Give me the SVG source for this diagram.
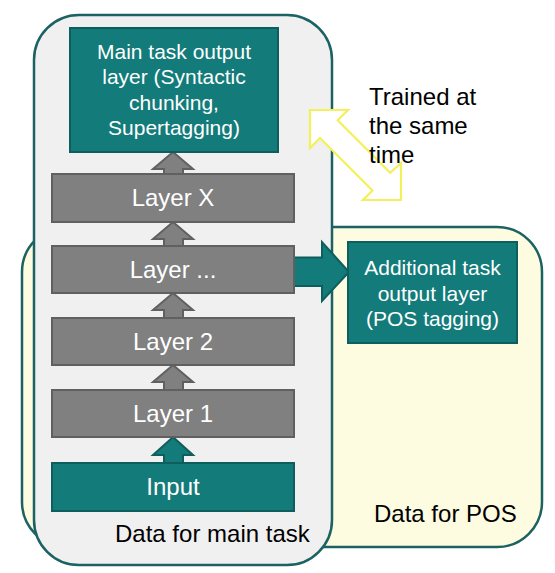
<svg xmlns="http://www.w3.org/2000/svg" width="555" height="573" viewBox="0 0 555 573">
<style>
.container{stroke:#1c6262;stroke-width:2.5}
.teal{fill:#137b7a;stroke:#0e5e5e;stroke-width:2}
.gray{fill:#808080;stroke:#606060;stroke-width:2}
.wt{fill:#ffffff;font-family:"Liberation Sans",Arial,sans-serif;text-anchor:middle}
.bt{fill:#000000;font-family:"Liberation Sans",Arial,sans-serif;font-size:24px}
</style>
<rect width="555" height="573" fill="#ffffff"/>
<g id="pos-data">
<rect class="container" x="22" y="227" width="520" height="320" rx="45" fill="#fdfbe0"/>
<text class="bt" x="374" y="522">Data for POS</text>
</g>
<g id="main-data">
<rect class="container" x="34" y="15" width="298" height="550" rx="45" fill="#f0f0f0"/>
<text class="bt" x="115" y="542">Data for main task</text>
</g>
<g id="connectors">
<polygon class="gray" points="173,152 193,169 183,169 183,174 164,174 164,169 153,169"/>
<polygon class="gray" points="173,222 193,239 183,239 183,246 164,246 164,239 153,239"/>
<polygon class="gray" points="173,293 193,310 183,310 183,318 164,318 164,310 153,310"/>
<polygon class="gray" points="173,365 193,382 183,382 183,390 164,390 164,382 153,382"/>
<polygon class="teal" points="173,437 193,455 183,455 183,463 164,463 164,455 153,455"/>
<polygon class="teal" points="292,257.5 322,257.5 322,242 349,272 322,301 322,286 292,286"/>
<polygon fill="#ffffff" stroke="#f3f05c" stroke-width="2.2" points="310,110 348,110 337.7,120.3 390.2,172.8 401,163 401,200 363,200 372.5,190.5 320,138 310,148"/>
</g>
<g id="main-output">
<rect class="teal" x="70" y="28" width="208" height="124"/>
<text class="wt" font-size="21" x="174" y="59">Main task output</text>
<text class="wt" font-size="21" x="174" y="84">layer (Syntactic</text>
<text class="wt" font-size="21" x="174" y="110">chunking,</text>
<text class="wt" font-size="21" x="174" y="135">Supertagging)</text>
</g>
<g id="layer-x">
<rect class="gray" x="52" y="174" width="242" height="48"/>
<text class="wt" font-size="24" x="173" y="206">Layer X</text>
</g>
<g id="layer-dots">
<rect class="gray" x="52" y="246" width="242" height="47"/>
<text class="wt" font-size="24" x="173" y="278">Layer ...</text>
</g>
<g id="layer-2">
<rect class="gray" x="52" y="318" width="242" height="47"/>
<text class="wt" font-size="24" x="173" y="350">Layer 2</text>
</g>
<g id="layer-1">
<rect class="gray" x="52" y="390" width="242" height="47"/>
<text class="wt" font-size="24" x="173" y="422">Layer 1</text>
</g>
<g id="input">
<rect class="teal" x="52" y="463" width="242" height="48"/>
<text class="wt" font-size="24" x="173" y="495">Input</text>
</g>
<g id="additional-output">
<rect class="teal" x="348" y="242" width="169" height="101"/>
<text class="wt" font-size="21" x="432.5" y="275">Additional task</text>
<text class="wt" font-size="21" x="432.5" y="301">output layer</text>
<text class="wt" font-size="21" x="432.5" y="326">(POS tagging)</text>
</g>
<g id="trained-label">
<text class="bt" x="369" y="105">Trained at</text>
<text class="bt" x="369" y="134">the same</text>
<text class="bt" x="369" y="163">time</text>
</g>
</svg>
